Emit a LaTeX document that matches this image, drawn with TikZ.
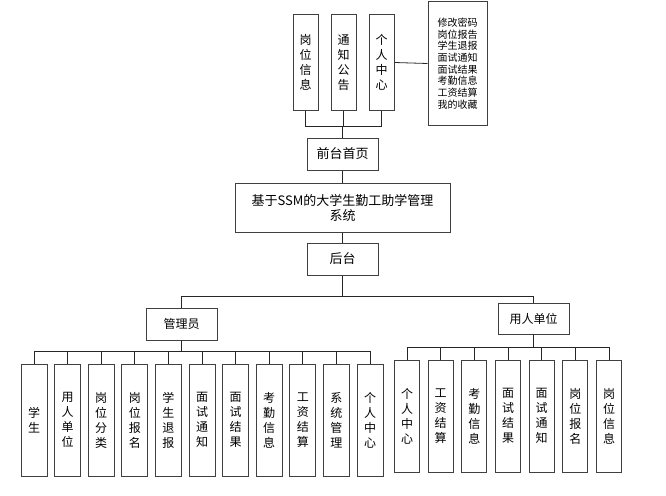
\documentclass[tikz,border=0pt]{standalone}
\usepackage{fontspec}
\setmainfont{Noto Sans CJK SC}
\usetikzlibrary{positioning}
\tikzstyle{block} = [rectangle, draw=black!75, line width=1pt, inner sep=0pt, align=center, font=\fontsize{13}{15}\selectfont]
\tikzstyle{col} = [block, minimum width=25pt, minimum height=112pt, font=\fontsize{12}{15}\selectfont]
\tikzstyle{line} = [draw=black!85, line width=0.8pt]

\begin{document}
\begin{tikzpicture}[x=1pt, y=-1pt]
        \useasboundingbox (0,0) rectangle (666,495);
        % front end
        \node (gw) [col, minimum height=95pt] at (305.5,62.5) {岗\\位\\信\\息};
        \node (tz) [col, minimum height=95pt, right=12pt of gw] {通\\知\\公\\告};
        \node (gr) [col, minimum height=95pt, right=12pt of tz] {个\\人\\中\\心};
        \node (grlist) [block, minimum width=59pt, minimum height=123pt, font=\fontsize{10}{11.7}\selectfont] at (457.5,63.5)
            {修改密码\\岗位报告\\学生退报\\面试通知\\面试结果\\考勤信息\\工资结算\\我的收藏};
        \node (qt) [block, minimum width=71pt, minimum height=32pt] at (342.5,154) {前台首页};
        \node (sys) [block, minimum width=215pt, minimum height=49pt] at (342.5,207.5) {基于SSM的大学生勤工助学管理\\系统};
        \node (ht) [block, minimum width=71pt, minimum height=32pt] at (342.5,259) {后台};
        \node (admin) [block, minimum width=71pt, minimum height=32pt, font=\fontsize{12}{15}\selectfont] at (181.5,324) {管理员};
        \node (unit) [block, minimum width=71pt, minimum height=31pt, font=\fontsize{12}{15}\selectfont] at (533.5,318.5) {用人单位};
        \draw [line] (gr.east) -- (grlist.west);
        \foreach \n in {gw,tz,gr}
            \draw [line] (qt.north) -- ++(0,-11) -| (\n.south);
        \draw [line] (qt.south) -- (sys.north);
        \draw [line] (sys.south) -- (ht.north);
        \draw [line] (ht.south) -- ++(0,21) -| (admin.north);
        \draw [line] (ht.south) -- ++(0,21) -| (unit.north);
        % admin modules
        \foreach \t [count=\k] in {{学\\生},{用\\人\\单\\位},{岗\\位\\分\\类},{岗\\位\\报\\名},{学\\生\\退\\报},{面\\试\\通\\知},{面\\试\\结\\果},{考\\勤\\信\\息},{工\\资\\结\\算},{系\\统\\管\\理},{个\\人\\中\\心}} {
            \node (adm\k) [col, minimum width=26pt] at ({34+33.6*(\k-1)},420) {\t};
            \draw [line] (admin.south) -- ++(0,11) -| (adm\k.north);
        }
        % unit modules
        \foreach \t [count=\k] in {{个\\人\\中\\心},{工\\资\\结\\算},{考\\勤\\信\\息},{面\\试\\结\\果},{面\\试\\通\\知},{岗\\位\\报\\名},{岗\\位\\信\\息}} {
            \node (emp\k) [col] at ({407+33.67*(\k-1)},416) {\t};
            \draw [line] (unit.south) -- ++(0,13) -| (emp\k.north);
        }
    \end{tikzpicture}
\end{document}
